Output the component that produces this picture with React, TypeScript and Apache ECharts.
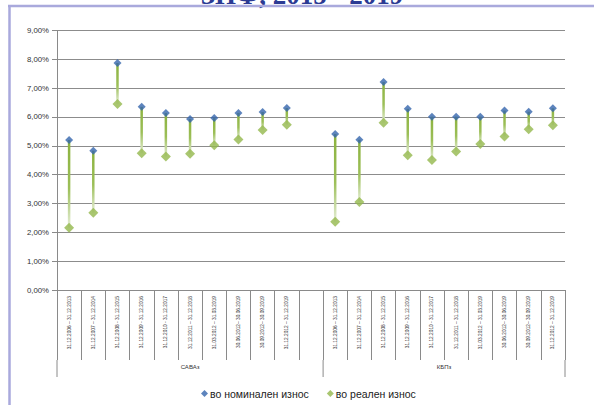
import React, { useEffect, useRef } from "react";
import * as echarts from "echarts";

const categoriesA = [
  "31.12.2006 – 31.12.2013",
  "31.12.2007 – 31.12.2014",
  "31.12.2008 - 31.12.2015",
  "31.12.2009 - 31.12.2016",
  "31.12.2010 - 31.12.2017",
  "31.12.2011 – 31.12.2018",
  "31.03.2012 – 31.03.2019",
  "30.06.2012– 30.06.2019",
  "30.09.2012– 30.09.2019",
  "31.12.2012 – 31.12.2019",
];
const categoriesB = categoriesA.slice();
const groupNames = ["САВАз", "КБПз"];

const nominalA = [5.2, 4.83, 7.87, 6.35, 6.14, 5.93, 5.96, 6.14, 6.17, 6.31];
const realA = [2.16, 2.68, 6.45, 4.74, 4.63, 4.72, 5.02, 5.22, 5.55, 5.73];
const nominalB = [5.41, 5.21, 7.21, 6.28, 6.01, 6.01, 6.01, 6.22, 6.18, 6.3];
const realB = [2.37, 3.05, 5.8, 4.67, 4.51, 4.8, 5.06, 5.32, 5.57, 5.71];

const seriesNames = ["во номинален износ", "во реален износ"];
const yTicks = [0, 1, 2, 3, 4, 5, 6, 7, 8, 9];

const W = 594;
const H = 405;
const gridLeft = 57;
const gridRight = 565;
const gridTop = 30.4;
const gridBottom = 290;

export default function App() {
  const ref = useRef<HTMLDivElement>(null);
  useEffect(() => {
    if (!ref.current) return;
    const chart = echarts.init(ref.current, null, { renderer: "svg" });
    const cats = [...categoriesA, "", ...categoriesB];
    const offB = categoriesA.length + 1;
    const nominal: any[] = cats.map(() => "-");
    const real: any[] = cats.map(() => "-");
    const ranges: any[] = [];
    nominalA.forEach((v, i) => {
      nominal[i] = v;
      real[i] = realA[i];
      ranges.push([i, v, realA[i]]);
    });
    nominalB.forEach((v, i) => {
      nominal[offB + i] = v;
      real[offB + i] = realB[i];
      ranges.push([offB + i, v, realB[i]]);
    });
    const catW = (gridRight - gridLeft) / cats.length;
    const sepXs = [gridLeft, gridLeft + offB * catW, gridRight];
    const groupCenters = [
      gridLeft + (offB * catW) / 2,
      gridLeft + offB * catW + (categoriesB.length * catW) / 2,
    ];
    const gray = "#8a8a8a";
    const graphics: any[] = [
      {
        type: "text",
        x: 302,
        y: -5,
        style: {
          text: "ЗПФ, 2015 - 2019",
          font: "bold 27px 'Liberation Serif'",
          fill: "#2B3A93",
          textAlign: "center",
          textVerticalAlign: "middle",
        },
      },
      {
        type: "line",
        shape: { x1: 8, y1: 6, x2: W, y2: 6 },
        style: { stroke: "#A9A9DC", lineWidth: 2.5 },
      },
      {
        type: "line",
        shape: { x1: 9.5, y1: 6, x2: 9.5, y2: H },
        style: { stroke: "#A9A9DC", lineWidth: 2.5 },
      },
    ];
    sepXs.forEach((x) => {
      graphics.push({
        type: "line",
        shape: { x1: x, y1: 360, x2: x, y2: 377 },
        style: { stroke: gray, lineWidth: 1 },
      });
    });
    groupNames.forEach((g, i) => {
      graphics.push({
        type: "text",
        x: groupCenters[i],
        y: 367,
        style: {
          text: g,
          font: "6px 'Liberation Sans'",
          fill: "#333",
          textAlign: "center",
          textVerticalAlign: "middle",
        },
      });
    });

    chart.setOption({
      animation: false,
      backgroundColor: "#ffffff",
      grid: {
        left: gridLeft,
        right: W - gridRight,
        top: gridTop,
        bottom: H - gridBottom,
      },
      legend: {
        left: 196,
        top: 383,
        itemWidth: 7,
        itemHeight: 7,
        itemGap: 18,
        data: [
          { name: seriesNames[0], icon: "diamond" },
          { name: seriesNames[1], icon: "diamond" },
        ],
        textStyle: {
          fontFamily: "Liberation Sans",
          fontSize: 10.5,
          color: "#222",
          padding: [0, 0, 0, -3],
        },
      },
      xAxis: {
        type: "category",
        data: cats,
        boundaryGap: true,
        axisLine: { show: true, lineStyle: { color: gray, width: 1 } },
        axisTick: {
          show: true,
          interval: 0,
          length: 70,
          lineStyle: { color: gray, width: 1 },
        },
        axisLabel: {
          interval: 0,
          rotate: 90,
          margin: 6,
          fontSize: 4.8,
          fontFamily: "Liberation Sans",
          color: "#333",
        },
        splitLine: { show: false },
      },
      yAxis: {
        type: "value",
        min: yTicks[0],
        max: yTicks[yTicks.length - 1],
        interval: 1,
        axisLine: { show: true, lineStyle: { color: gray, width: 1 } },
        axisTick: { show: true, length: 5, lineStyle: { color: gray } },
        splitLine: { show: true, lineStyle: { color: "#8c8c8c", width: 1 } },
        axisLabel: {
          margin: 8,
          fontSize: 7.8,
          fontFamily: "Liberation Sans",
          color: "#333",
          formatter: (v: number) => v.toFixed(2).replace(".", ",") + "%",
        },
      },
      series: [
        {
          type: "custom",
          name: "range",
          data: ranges,
          encode: { x: 0, y: [1, 2] },
          z: 2,
          silent: true,
          renderItem: (params: any, api: any) => {
            const x = api.value(0);
            const top = api.coord([x, api.value(1)]);
            const bot = api.coord([x, api.value(2)]);
            return {
              type: "rect",
              shape: {
                x: top[0] - 1.25,
                y: top[1],
                width: 2.5,
                height: bot[1] - top[1],
              },
              style: {
                fill: new echarts.graphic.LinearGradient(0, 0, 0, 1, [
                  { offset: 0, color: "#8BB23E" },
                  { offset: 0.55, color: "#9CBF58" },
                  { offset: 1, color: "#E6EED8" },
                ]),
              },
            };
          },
        },
        {
          type: "scatter",
          name: seriesNames[1],
          data: real,
          symbol: "diamond",
          symbolSize: 10,
          itemStyle: { color: "#93B84C" },
          z: 3,
        },
        {
          type: "scatter",
          name: seriesNames[0],
          data: nominal,
          symbol: "diamond",
          symbolSize: 8,
          itemStyle: { color: "#3465AC" },
          z: 4,
        },
      ],
      graphic: graphics,
    });
    return () => chart.dispose();
  }, []);
  return (
    <div
      ref={ref}
      style={{ position: "fixed", left: 0, top: 0, width: W, height: H }}
    />
  );
}
